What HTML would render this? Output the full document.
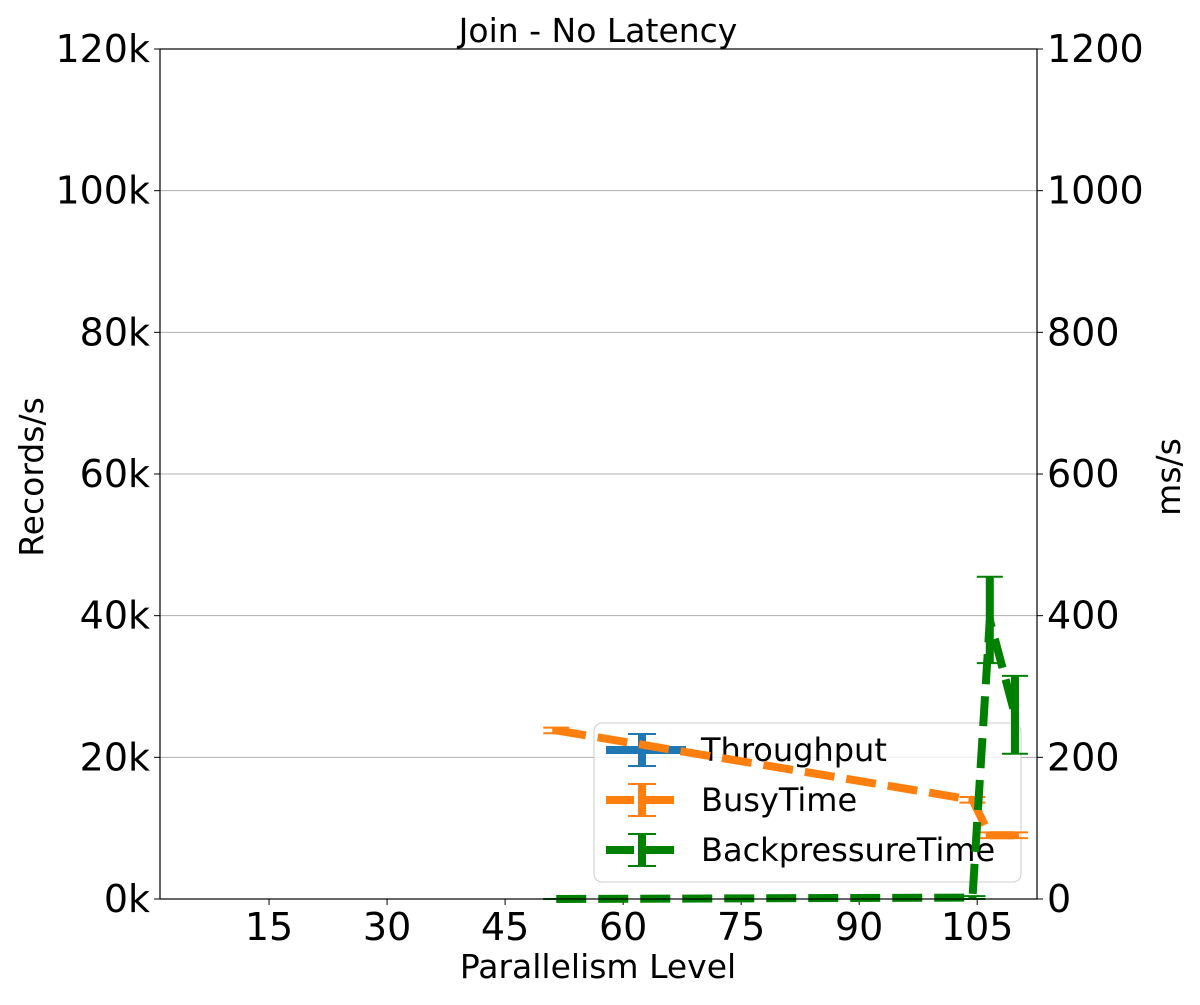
<!DOCTYPE html>
<html><head><meta charset="utf-8"><style>
body{margin:0;background:#fff;font-family:"Liberation Sans","DejaVu Sans",sans-serif}
</style></head><body>
<svg id="chart" width="1200" height="1000" xmlns="http://www.w3.org/2000/svg" font-family="DejaVu Sans, Liberation Sans, sans-serif"></svg>
<script>
const xs = [51.5, 104.4, 106.6, 109.8];
const busy = [238, 140, 90, 90];
const busyErr = [4, 4, 4, 4];
const bp = [0, 2, 394, 260];
const bpErr = [0, 2, 61, 55];
const xTicks = [15, 30, 45, 60, 75, 90, 105];
const yLeftTicks = [0, 20, 40, 60, 80, 100, 120];
const yRightTicks = [0, 200, 400, 600, 800, 1000, 1200];

const L=160,R=1037,T=49,B=899;
const xmin=1.14,xmax=112.6;
const X=v=>L+(v-xmin)/(xmax-xmin)*(R-L);
const YR=v=>B-v/1200*(B-T);
const YL=v=>B-v/120*(B-T);
const svg=document.getElementById('chart');
const NS='http://www.w3.org/2000/svg';
function mk(tag,attrs,parent){const e=document.createElementNS(NS,tag);for(const k in attrs)e.setAttribute(k,attrs[k]);(parent||svg).appendChild(e);return e;}

yLeftTicks.forEach((t,i)=>{
  if(t>0&&t<120){const g=mk('line',{x1:L,x2:R,y1:YL(t),y2:YL(t),stroke:'#b0b0b0','stroke-width':1});
  
  }
  mk('line',{x1:L-6,x2:L,y1:YL(t),y2:YL(t),stroke:'#000'});
  const tx=mk('text',{x:L-10,y:YL(t)+13,'text-anchor':'end','font-size':38});tx.textContent=t+'k';
  
  
});
yRightTicks.forEach(t=>{
  mk('line',{x1:R,x2:R+6,y1:YR(t),y2:YR(t),stroke:'#000'});
  const tx=mk('text',{x:R+10,y:YR(t)+13,'font-size':38});tx.textContent=t;
  
  
});
xTicks.forEach(t=>{
  mk('line',{x1:X(t),x2:X(t),y1:B,y2:B+6,stroke:'#000'});
  const tx=mk('text',{x:X(t),y:B+41,'text-anchor':'middle','font-size':38});tx.textContent=t;
  
  
});

const lg=mk('g',{});

mk('rect',{x:594,y:723,width:427,height:159,rx:8,fill:'#fff','fill-opacity':0.8,stroke:'#ccc'},lg);
[['Throughput','#1f77b4',null],['BusyTime','#ff7f0e','28,12'],['BackpressureTime','#008000','28,12']].forEach((e,i)=>{
  const y=750+i*50;
  const a={x1:606,x2:686,y1:y,y2:y,stroke:e[1],'stroke-width':8};if(e[2])a['stroke-dasharray']=e[2];
  mk('line',a,lg);
  mk('line',{x1:642,x2:642,y1:y-16,y2:y+16,stroke:e[1],'stroke-width':8},lg);
  mk('line',{x1:628,x2:656,y1:y-16,y2:y-16,stroke:e[1],'stroke-width':2},lg);
  mk('line',{x1:628,x2:656,y1:y+16,y2:y+16,stroke:e[1],'stroke-width':2},lg);
  const t=mk('text',{x:701,y:y+11,'font-size':32},lg);t.textContent=e[0];
  
});

function series(vals,errs,color,name){
  const g=mk('g',{});
  
  
  const pts=xs.map((x,i)=>X(x)+','+YR(vals[i])).join(' ');
  mk('polyline',{points:pts,fill:'none',stroke:color,'stroke-width':8,'stroke-dasharray':'30,12'},g);
  xs.forEach((x,i)=>{
    const cx=X(x),lo=YR(vals[i]-errs[i]),hi=YR(vals[i]+errs[i]);
    mk('line',{x1:cx,x2:cx,y1:lo,y2:hi,stroke:color,'stroke-width':8},g);
    mk('line',{x1:cx-13,x2:cx+13,y1:lo,y2:lo,stroke:color,'stroke-width':2},g);
    mk('line',{x1:cx-13,x2:cx+13,y1:hi,y2:hi,stroke:color,'stroke-width':2},g);
  });
}
series(busy,busyErr,'#ff7f0e','busytime-series');
series(bp,bpErr,'#008000','backpressure-series');

mk('rect',{x:L,y:T,width:R-L,height:B-T,fill:'none',stroke:'#000','stroke-width':1.2});

const title=mk('text',{x:598,y:42,'text-anchor':'middle','font-size':33});title.textContent='Join - No Latency';

const xl=mk('text',{x:598,y:978,'text-anchor':'middle','font-size':33});xl.textContent='Parallelism Level';

const yl=mk('text',{x:0,y:0,'text-anchor':'middle','font-size':33,transform:'translate(43,477) rotate(-90)'});yl.textContent='Records/s';

const yr=mk('text',{x:0,y:0,'text-anchor':'middle','font-size':33,transform:'translate(1180,477) rotate(-90)'});yr.textContent='ms/s';

</script>
</body></html>
